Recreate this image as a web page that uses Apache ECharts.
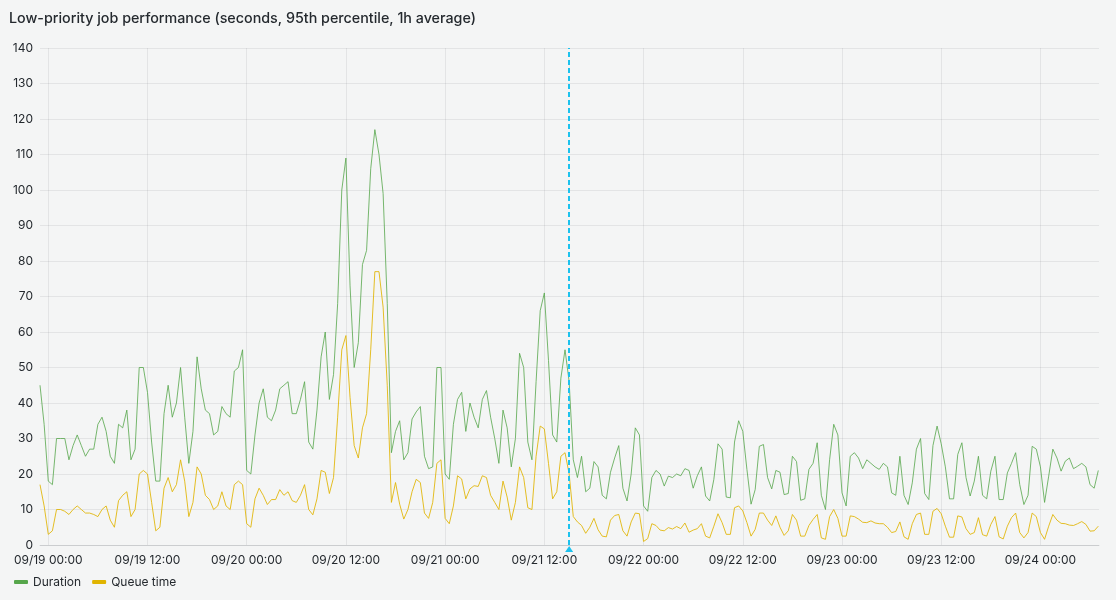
<!DOCTYPE html>
<html>
<head>
<meta charset="utf-8">
<script src="https://cdn.jsdelivr.net/npm/echarts@6/dist/echarts.min.js"></script>
<style>
html,body{margin:0;padding:0;background:#f4f5f5;}
#chart{width:1116px;height:600px;}
</style>
</head>
<body>
<div id="chart"></div>
<script>
const chartTitle = 'Low-priority job performance (seconds, 95th percentile, 1h average)';
const seriesNames = ['Duration', 'Queue time'];
const seriesColors = ['#56A64B', '#E0B400'];
const year = 2023;
const startTime = new Date(year, 8, 18, 23, 0, 0).getTime();   // first sample
const endTime = new Date(year, 8, 24, 7, 5, 0).getTime();      // right edge of range
const stepMinutes = 30;
const annotationTime = new Date(year, 8, 21, 15, 0, 0).getTime();
const xTickLabels = ['09/19 00:00','09/19 12:00','09/20 00:00','09/20 12:00','09/21 00:00','09/21 12:00','09/22 00:00','09/22 12:00','09/23 00:00','09/23 12:00','09/24 00:00'];
const yMax = 140, yStep = 10;

const duration = [
45,34,18,17,30,30,30,24,28,31,
28,25,27,27,34,36,32,25,23,34,
33,38,24,27,50,50,43,29,18,18,
37,45,36,40,50,36,23,32,53,44,
38,37,31,32,39,37,36,49,
50,55,21,20,31,40,44,36,35,38,44,45,46,37,37,41,46,
29,27,38,53,60,41,48,68,100,109,
73,50,57,79,83,106,117,110,99,68,
26,32,35,24,26,35.5,37.5,39,25,21.5,
22,50,50,20,18.5,34,
41,43,32,40,36,33,41,43.5,36,30,
23,38,33,22,30,54,50,29,24,46,
66,71,52,31,29,47,55,46,24,19,
25,15,16,23.5,22,14,13,20.5,24.5,28,
16,12.4,20,33,31,11,9.5,19,21,20,
16.6,19.4,19,20,19.5,21.5,21,16,19.5,22,
13.8,12.4,18.5,28.5,27,13.5,13.3,29,35,32,
21.3,11.5,15.6,27.8,28.3,19,15.8,21,20.5,14.2,
14.5,25,23.5,12.6,13,21.3,23,28.8,14,10,
24,34,31,14.7,11,25,26,24.5,21.5,24,
23,22,21.3,23,22,14.7,14,25,14,11.4,
17.5,27,30,14.5,12.8,28,33.5,28.5,22,13,
13,25.5,28.8,19,13.8,18,25,14,13,20.8,
25,12.8,12.8,20.3,23,26,17,11.4,14,27.8,
27,22,12,19.4,27,24.5,20.8,23.6,24.5,21.5,
22.2,23,22,17,16,21
];

const queueTime = [
17,11,3,4,10,10,9.5,8.6,10,11,
10,9,9,8.6,8,10,11,7,5,12.5,
14,15,8,10,20,21,20,12,4,5,
16,19,15,17,24,18,8,12,22,20,
14,12.8,10,11,15,11,10,17,
18,17,6,5,13,16,14,11.4,12.8,12.8,15.6,14,15,12.5,12,14,17,
10,8.5,13,21,20.5,14.5,19,36,55,59,
41.5,28,24.5,33,37,55,77,77,67,45,
12,17.6,11.5,7.3,10,15,18.5,17.6,9,7.5,
12,23,24,7.5,6,11,
19.5,18.6,13,15.8,16.7,16.5,19.5,19,14,12,
10,18,13.5,7,12,22,19,10.5,10,25,
33.5,32.7,23,13,15,25,26,20,8,6.5,
5.5,3.3,5,7.5,4.3,2.5,2.3,7,8.3,8.6,
4,2.5,6.5,9,8.8,1,1.8,6,5.5,4.2,
4,4.9,4.5,5.2,4.6,6.2,3.6,4.2,4.6,6,
2.5,2,5.3,8.8,6.3,3,3,10.5,11,9.6,
6.3,2.5,4.4,9,9,7,5.5,8.2,5,2.7,
4,8.6,7,2.5,2.5,5.5,7.2,8.6,2,1.6,
8,10,7.5,2.5,2.5,8.2,8,7.3,6.4,6.3,
6.8,6.2,6,6,5,3.5,3.8,6.5,2.3,1.6,
6,8.6,9,3,3,9.5,10.3,8.8,5.3,2.2,
2.2,8.2,7.9,4.6,3,3.5,7.7,2.9,2.5,5.8,
8,2.3,1.7,5.3,7.7,9,3.5,2,3.5,9,
8,3.5,1.6,5.3,8.6,7,6.1,6,5.6,5.5,
6,6.6,5.8,3.9,4,5.3
];

function parseTick(s) {
  const [md, hm] = s.split(' ');
  const [mo, d] = md.split('/').map(Number);
  const [h, mi] = hm.split(':').map(Number);
  return new Date(year, mo - 1, d, h, mi, 0).getTime();
}
const tickValues = xTickLabels.map(parseTick);
function toPairs(arr) {
  return arr.map((v, i) => [startTime + i * stepMinutes * 60000, v]);
}
function labelFor(v){
  const i = tickValues.indexOf(v);
  return i >= 0 ? xTickLabels[i] : '';
}

const FONT = 'Inter, "Noto Sans", sans-serif';
const TEXT = '#24292e';
const GRID = 'rgba(36,41,46,0.08)';

const chart = echarts.init(document.getElementById('chart'), null, {renderer: 'canvas'});
chart.setOption({
  backgroundColor: '#f4f5f5',
  animation: false,
  textStyle: {fontFamily: FONT},
  title: {
    text: chartTitle, left: 4, top: 7,
    textStyle: {fontSize: 14.3, fontWeight: 500, color: TEXT, fontFamily: FONT}
  },
  legend: {
    left: 9, bottom: 7, itemWidth: 14, itemHeight: 4, itemGap: 11,
    icon: 'roundRect',
    textStyle: {fontSize: 12, color: TEXT, fontFamily: FONT},
    data: seriesNames
  },
  grid: {left: 40, right: 17, top: 48, bottom: 55, containLabel: false},
  xAxis: {
    type: 'value', min: startTime, max: endTime, scale: true,
    axisLine: {show: true, onZero: false, lineStyle: {color: 'rgba(36,41,46,0.12)', width: 1}},
    axisTick: {show: false, customValues: tickValues},
    axisLabel: {customValues: tickValues, formatter: v => labelFor(v), color: TEXT, fontSize: 12, margin: 9, fontFamily: FONT, hideOverlap: false},
    splitLine: {show: true, lineStyle: {color: GRID, width: 1}}
  },
  yAxis: {
    type: 'value', min: 0, max: yMax, interval: yStep,
    axisLine: {show: false}, axisTick: {show: false},
    axisLabel: {color: TEXT, fontSize: 12, margin: 7, fontFamily: FONT},
    splitLine: {show: true, lineStyle: {color: GRID, width: 1}}
  },
  series: [
    {
      name: seriesNames[0], type: 'line', data: toPairs(duration),
      showSymbol: false, symbol: 'none', lineStyle: {width: 1, color: seriesColors[0], opacity: 0.8},
      itemStyle: {color: seriesColors[0]}, z: 3,
      markLine: {
        silent: true, symbol: ['none','none'], label: {show: false},
        lineStyle: {color: '#1CC2EE', type: [5,3], width: 2, opacity: 1},
        data: [{xAxis: annotationTime}]
      },
      markPoint: {
        silent: true, symbol: 'triangle', symbolSize: [8,6], symbolOffset: [0, 4],
        itemStyle: {color: '#1CC2EE'}, label: {show: false},
        data: [{coord: [annotationTime, 0]}]
      }
    },
    {
      name: seriesNames[1], type: 'line', data: toPairs(queueTime),
      showSymbol: false, symbol: 'none', lineStyle: {width: 1, color: seriesColors[1], opacity: 0.85},
      itemStyle: {color: seriesColors[1]}, z: 2
    }
  ]
});
</script>
</body>
</html>
